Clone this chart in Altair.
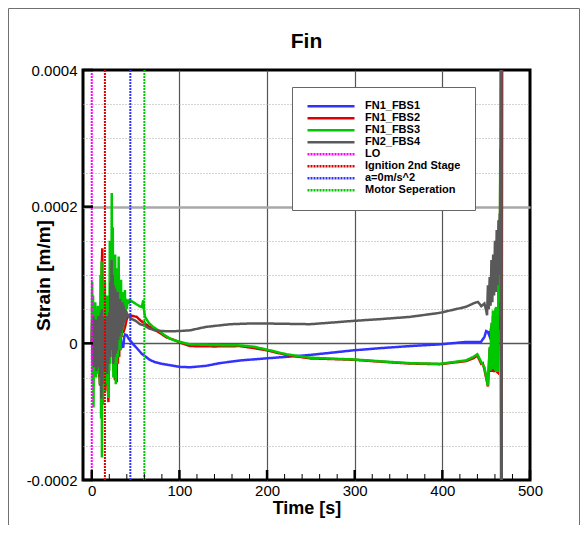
import altair as alt
import pandas as pd

# ---------------- data ----------------
series_names = ["FN1_FBS1", "FN1_FBS2", "FN1_FBS3", "FN2_FBS4"]
series_colors = ["#3232ff", "#dd0000", "#00c800", "#595959"]
event_names = ["LO", "Ignition 2nd Stage", "a=0m/s^2", "Motor Seperation"]
event_times = [0, 15, 44, 60]
event_colors = ["#ff00ff", "#dd0000", "#3232ff", "#00c800"]

x_tick_values = [0, 100, 200, 300, 400, 500]
x_minor_values = [20, 40, 60, 80, 120, 140, 160, 180, 220, 240, 260, 280,
                  320, 340, 360, 380, 420, 440, 460, 480]
y_label_values = [-0.0002, 0, 0.0002, 0.0004]
y_grid_values = [-0.0002, -0.00015, -0.0001, -0.00005, 0, 0.00005, 0.0001,
                 0.00015, 0.0002, 0.00025, 0.0003, 0.00035, 0.0004]

# (time [s], strain in micro-strain)
fbs1 = [(0, 0), (1, 15), (2, -15), (3, 12), (4, -12), (5, 15), (6, -15), (7, 12),
        (8, -14), (9, 15), (10, -20), (11, 20), (12, -25), (13, 20), (14, -15),
        (15, 15), (16, -18), (17, 14), (18, -15), (19, 12), (20, -10), (21, 20),
        (22, 5), (23, 30), (24, 0), (25, 25), (26, -5), (27, 20), (28, -5),
        (29, 15), (30, -5), (31, 10), (32, -5), (33, 8), (34, -3), (35, -5.4),
        (36, -5), (37, 9.3), (38, 13), (40, 11.8), (42, 7), (43.7, 4.4), (47, -1),
        (50, -5), (57, -15.2), (62, -20), (66, -24), (72, -27.5), (80, -30),
        (91, -32.4), (100.8, -34.5), (112, -35), (130, -33), (146, -29),
        (170, -25), (199, -22), (225, -19.5), (249, -17), (275, -13.5),
        (298, -10.3), (330, -7), (363, -4), (397, -1.5), (427, 2), (444, 2),
        (448, 9.3), (450, 18), (452, 16.6), (454, 10), (456, 25), (458, 5),
        (460, 30), (462, 0), (464, 40), (466, 20)]

fbs2 = [(0, 0), (0.6, 40), (1.2, -30), (1.8, 45), (2.5, -40), (3.2, 35), (4.0, -30),
        (4.8, 40), (5.5, -35), (6.2, 30), (7.0, -40), (7.8, 35), (8.5, -45),
        (9.5, -62), (10.2, 60), (10.8, -40), (11.4, 110), (12.0, 139), (12.6, -50),
        (13.2, 60), (13.9, -60), (14.6, 50), (15.3, -70), (16.0, 45), (16.7, -55),
        (17.4, 60), (18.1, -50), (19.0, -86), (19.7, 40), (20.4, -30), (21.1, 90),
        (21.8, -20), (22.5, 110), (23.2, -10), (23.9, 100), (24.6, -40), (25.3, 80),
        (26.0, -45), (26.5, -54), (27.2, 70), (27.9, -40), (28.5, -57), (29.2, 60),
        (29.9, -30), (30.6, 50), (31.3, -20), (32.0, 40), (32.7, -10), (33.4, 30),
        (34.0, 9), (34.8, 20), (35.5, 15), (36.2, 22), (37.0, 20), (38.0, 24),
        (39.0, 30), (40.0, 36), (41.5, 40), (43.7, 41), (47, 40), (51.3, 38.7),
        (56, 33), (60.7, 29), (65, 25), (70, 21), (76, 16.7), (85, 9), (95, 4.4),
        (101, 1), (112, -4), (140, -4.5), (169, -4), (185, -7), (199, -10),
        (222, -17), (249, -22), (275, -23), (298, -24), (332, -27), (363, -29.5),
        (397, -30.5), (427, -26), (435, -22), (440, -18), (444.4, -30), (446, -29),
        (448, -38), (452, -63), (454, -8), (455, -42), (456, 25), (457, -42),
        (457.7, 40), (458.6, -38), (459.6, -42), (460.5, 45), (461.5, 48),
        (462.5, -42), (463.4, -43), (464, 110), (464.5, 55), (465, 175),
        (465.5, 85), (466.2, 284), (466.6, 100), (467.5, -300), (468.3, 500)]

fbs3 = [(0, 0), (0.5, 90), (1.0, -60), (1.5, 70), (2.0, -94), (2.6, 50), (3.2, -40),
        (4.0, 60), (4.8, -50), (5.5, 45), (6.3, -30), (7.0, 55), (7.8, -45),
        (8.5, 40), (9.2, -60), (10.0, 100), (10.6, -110), (11.2, 120), (11.6, -167),
        (12.2, 80), (12.8, -90), (13.5, 60), (14.2, -70), (15.0, 90), (15.8, -60),
        (16.5, 50), (17.2, -50), (18.0, 70), (18.7, -80), (19.4, 60), (20.0, -40),
        (20.6, 150), (21.2, -30), (21.8, 130), (22.4, 20), (22.8, 220), (23.4, -20),
        (24.0, 170), (24.6, -50), (25.3, 120), (26.0, -40), (26.7, 130), (27.4, -60),
        (28.0, 100), (28.7, -30), (29.4, 110), (30.0, -20), (30.7, 127), (31.4, 0),
        (32.0, 80), (32.7, -10), (33.4, 93), (34.0, 10), (34.8, 75), (35.5, 20),
        (36.2, 70), (37.0, 30), (37.8, 78), (38.5, 40), (39.3, 65), (40.0, 50),
        (41.0, 64), (42.0, 58), (43.0, 63), (45, 62), (50, 58), (55, 54), (57, 53),
        (58.8, 63), (59.5, 50), (60.7, 39), (65, 30), (70, 24), (76, 19), (82, 13),
        (89, 7), (95, 4), (101, 2), (112, -1.5), (140, -2.5), (169, -3), (185, -5),
        (199, -9), (222, -16), (249, -21), (275, -22.5), (298, -23.5), (332, -26.5),
        (363, -29), (397, -30), (427, -25), (435, -20), (440, -16), (444.4, -27.5),
        (448, -35), (452, -62), (454, -5), (455, -40), (456, 30), (457, -38),
        (457.7, 48), (458.6, -35), (459.6, -37), (460.5, 50), (461.5, 53),
        (462.5, -40), (463.4, -40), (464, 120), (464.5, 60), (465, 181),
        (465.5, 90), (466, 259)]

fbs4 = [(0, 0), (0.6, 35), (1.2, -30), (1.8, 40), (2.5, -35), (3.2, 30), (4.0, -25),
        (4.7, 35), (5.4, -40), (6.1, 30), (6.8, -35), (7.5, 40), (8.2, -30),
        (8.9, 25), (9.6, -50), (10.3, 45), (11.0, -81), (11.5, 50), (12.1, -60),
        (12.8, 40), (13.5, -30), (14.2, 35), (14.9, -40), (15.6, 30), (16.3, -35),
        (17.0, 40), (17.7, -45), (18.4, 35), (19.1, -30), (19.8, 45), (20.5, -20),
        (21.2, 90), (21.9, 0), (22.6, 122), (23.2, -10), (23.9, 100), (24.6, -30),
        (25.3, 85), (26.0, -20), (26.7, 80), (27.4, -15), (28.1, 70), (28.8, -10),
        (29.5, 75), (30.2, 5), (30.9, 60), (31.6, 10), (32.3, 65), (33.0, 15),
        (33.7, 55), (34.4, 20), (35.1, 60), (35.8, 25), (36.5, 55), (37.2, 30),
        (37.9, 50), (38.6, 35), (39.3, 48), (40.0, 40), (41.0, 42), (42.0, 40),
        (43.0, 38), (45, 36), (50, 33), (55, 28), (58.8, 26.5), (60, 30), (61, 25),
        (65, 22), (72, 19), (80, 18), (89, 17.6), (100, 18), (112, 19), (130, 24),
        (158, 28), (180, 29), (199, 29), (225, 28.5), (249, 28), (275, 30.5),
        (298, 32.8), (330, 35.5), (363, 38.7), (397, 44.6), (427, 53.4), (437, 59.3),
        (440.6, 60.7), (444.4, 54.4), (448, 58.3), (450, 48), (451, 41), (452, 85),
        (453, 50), (454, 97), (455, 55), (456, 122), (457, 60), (458, 130),
        (459, 70), (460, 150), (461, 75), (462, 166), (463, 85), (464, 180),
        (465, 100), (465.5, 190), (466, 110), (466.6, 500), (467.0, -300),
        (467.4, 500), (467.8, -300)]

series_data = [fbs1, fbs2, fbs3, fbs4]

# ---------------- encodings ----------------
FONT = "Liberation Sans"
all_names = series_names + event_names
all_colors = series_colors + event_colors
all_dashes = [[1, 0]] * 4 + [[2, 1]] * 4

label_list = "[" + ",".join(repr(v) for v in y_label_values) + "]"

x_axis = alt.Axis(
    values=x_tick_values, format="d", title="Time [s]",
    titleFont=FONT, titleFontSize=18, titleFontWeight="bold", titleColor="black",
    titleY=33, titleBaseline="alphabetic",
    labelFont=FONT, labelFontSize=15, labelColor="black", labelPadding=3,
    labelFlush=False, ticks=False, domain=False,
    grid=True, gridColor="#555555", gridWidth=1.2,
    gridOpacity={"condition": {"test": "datum.value == 0 || datum.value == 500", "value": 0}, "value": 1},
)
y_axis = alt.Axis(
    values=y_grid_values,
    labelExpr=f"indexof({label_list}, datum.value) >= 0 ? '' + datum.value : ''",
    title="Strain [m/m]", titleFont=FONT, titleFontSize=19, titleFontWeight="bold",
    titleColor="black", titleAngle=270, titleX=-34, titleY=205,
    titleBaseline="alphabetic", titleAlign="center",
    labelFont=FONT, labelFontSize=15, labelColor="black", labelPadding=6,
    labelFlush=False, ticks=False, domain=False, grid=True,
    gridColor={"condition": {"test": "datum.value == 0", "value": "#555555"}, "value": "#a8a8a8"},
    gridWidth={"condition": [{"test": "datum.value == 0.0002", "value": 2.5},
                             {"test": "datum.value == 0", "value": 1.5}], "value": 1},
    gridDash={"condition": {"test": "datum.value == 0 || datum.value == 0.0002", "value": []},
              "value": [1, 2]},
    gridOpacity={"condition": {"test": "datum.value == -0.0002 || datum.value == 0.0004", "value": 0},
                 "value": 1},
)

X = alt.X("t:Q", scale=alt.Scale(domain=[-10, 500], nice=False, zero=False), axis=x_axis)
Y = alt.Y("v:Q", scale=alt.Scale(domain=[-0.0002, 0.0004], nice=False, zero=False), axis=y_axis)

legend = alt.Legend(
    title=None, orient="none", legendX=209, legendY=17,
    symbolType="stroke", symbolSize=2209, symbolStrokeWidth=2.5,
    clipHeight=10.7, rowPadding=0, labelOffset=9,
    labelFont=FONT, labelFontSize=11, labelFontWeight="bold", labelColor="black",
    padding=14, strokeColor="#666666", fillColor="white",
)
COLOR = alt.Color("name:N", scale=alt.Scale(domain=all_names, range=all_colors), legend=legend)
DASH = alt.StrokeDash("name:N", scale=alt.Scale(domain=all_names, range=all_dashes), legend=legend)

layers = []
for name, pts in zip(series_names, series_data):
    df = pd.DataFrame(pts, columns=["t", "u"])
    df["v"] = df["u"] * 1e-6
    df["i"] = range(len(df))
    df["name"] = name
    layers.append(
        alt.Chart(df).mark_line(strokeWidth=2.5, clip=True).encode(
            x=X, y=Y, color=COLOR, strokeDash=DASH, order=alt.Order("i:Q")
        )
    )

events_df = pd.DataFrame({"t": event_times, "name": event_names})
layers.append(
    alt.Chart(events_df).mark_rule(strokeWidth=2, clip=True).encode(
        x=X, color=COLOR, strokeDash=DASH
    )
)

# inward tick marks
layers.append(
    alt.Chart(pd.DataFrame({"t": x_tick_values})).mark_rule(color="black", strokeWidth=2.5).encode(
        x=X, y=alt.value(410), y2=alt.value(400)
    )
)
layers.append(
    alt.Chart(pd.DataFrame({"t": x_minor_values})).mark_rule(color="black", strokeWidth=1).encode(
        x=X, y=alt.value(410), y2=alt.value(404)
    )
)
layers.append(
    alt.Chart(pd.DataFrame({"v": y_label_values})).mark_rule(color="black", strokeWidth=2.5).encode(
        y=Y, x=alt.value(0), x2=alt.value(10)
    )
)

# outer page frame
frame_df = pd.DataFrame({"k": [0]})
layers.append(alt.Chart(frame_df).mark_rule(color="#707070", strokeWidth=1).encode(
    x=alt.value(-74.5), y=alt.value(-61.5), y2=alt.value(455)))
layers.append(alt.Chart(frame_df).mark_rule(color="#707070", strokeWidth=1).encode(
    x=alt.value(496.5), y=alt.value(-61.5), y2=alt.value(455)))
layers.append(alt.Chart(frame_df).mark_rule(color="#707070", strokeWidth=1).encode(
    x=alt.value(-74.5), x2=alt.value(496.5), y=alt.value(-61.5)))

chart = alt.layer(*layers).properties(
    width=447, height=410,
    padding={"left": 75, "top": 62, "right": 50, "bottom": 45},
    autosize=alt.AutoSizeParams(type="none"),
    title=alt.Title("Fin", font=FONT, fontSize=21, fontWeight="bold", color="black",
                    anchor="middle", baseline="alphabetic", offset=-61),
).configure_view(stroke="black", strokeWidth=3)

chart.save("out.html", embed_options={"renderer": "svg", "actions": False})
